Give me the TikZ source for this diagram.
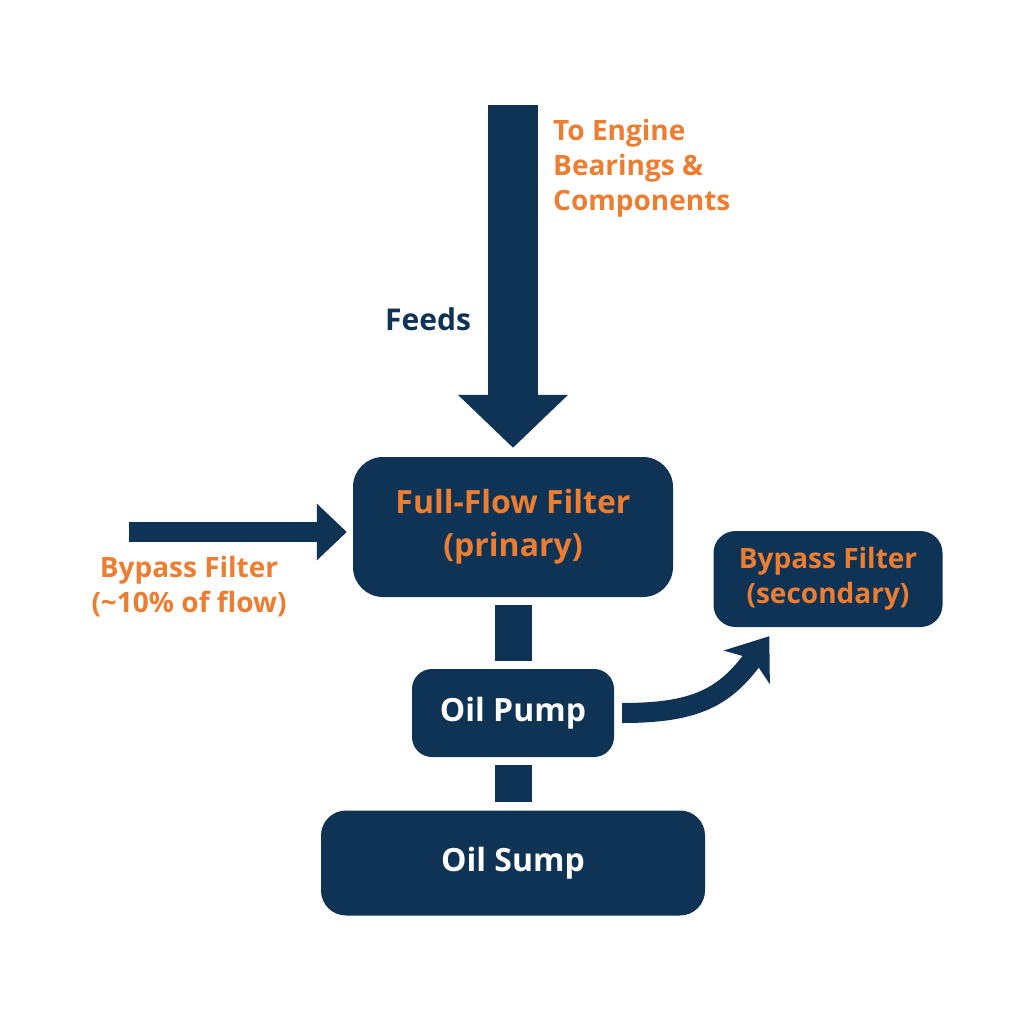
\documentclass[tikz,border=0pt]{standalone}
\usepackage{fontspec}
\setmainfont{Open Sans}
\usetikzlibrary{arrows.meta}
\definecolor{navy}{RGB}{14,51,84}
\definecolor{oilorange}{RGB}{237,125,49}

\begin{document}
\begin{tikzpicture}[
    x=1pt, y=-1pt,
    box/.style={fill=navy, inner sep=0pt, align=center, font=\bfseries\fontsize{32}{43}\selectfont},
    smallbox/.style={box, font=\bfseries\fontsize{28}{35}\selectfont},
    orangetext/.style={text=oilorange, align=center, inner sep=0pt, font=\bfseries\fontsize{28}{35}\selectfont},
    bigarrow/.style={navy, line width=50pt, -{Triangle[length=53pt, width=107pt]}},
    sidearrow/.style={navy, line width=20pt, -{Triangle[length=30pt, width=55pt]}},
    curvearrow/.style={navy, line width=20pt, -{Stealth[length=38pt, width=56pt, inset=10pt]}},
    pipe/.style={navy, line width=37pt, shorten <=8pt, shorten >=8pt}
]
\useasboundingbox (0,0) rectangle (1024,1024);

% --- Bloques ---
\node[box, text=oilorange, minimum width=320pt, minimum height=140pt, rounded corners=30pt] (full) at (513,527) {Full-Flow Filter\\(prinary)};
\node[box, text=white, minimum width=202pt, minimum height=88pt, rounded corners=20pt] (pump) at (513,713) {Oil Pump};
\node[box, text=white, minimum width=384pt, minimum height=105pt, rounded corners=25pt] (sump) at (513,863) {Oil Sump};
\node[smallbox, text=oilorange, minimum width=229pt, minimum height=96pt, rounded corners=22pt] (sec) at (828,579) {Bypass Filter\\(secondary)};

% --- Textos ---
\node[orangetext, anchor=west, align=left] (engtext) at (553,168) {To Engine\\Bearings \&\\Components};
\node[orangetext, text=navy, font=\bfseries\fontsize{30}{35}\selectfont] (feeds) at (428,319) {Feeds};
\node[orangetext] (byptext) at (189,587) {Bypass Filter\\(\char`\~10\% of flow)};

% --- Flechas ---
\coordinate (engine) at (513,105);
\coordinate (bypin) at (129,532);
\draw[bigarrow, shorten >=9pt] (engine) -- (full.north);
\draw[sidearrow, shorten >=6pt] (bypin) -- (bypin -| full.west);
\draw[curvearrow, shorten <=8pt] (pump.east) .. controls +(80,0) and +(-45,62) .. ([xshift=56pt, yshift=-9pt]sec.south west);

% --- Tuberias ---
\draw[pipe] (full.south) -- (pump.north);
\draw[pipe] (pump.south) -- (sump.north);

\end{tikzpicture}
\end{document}
